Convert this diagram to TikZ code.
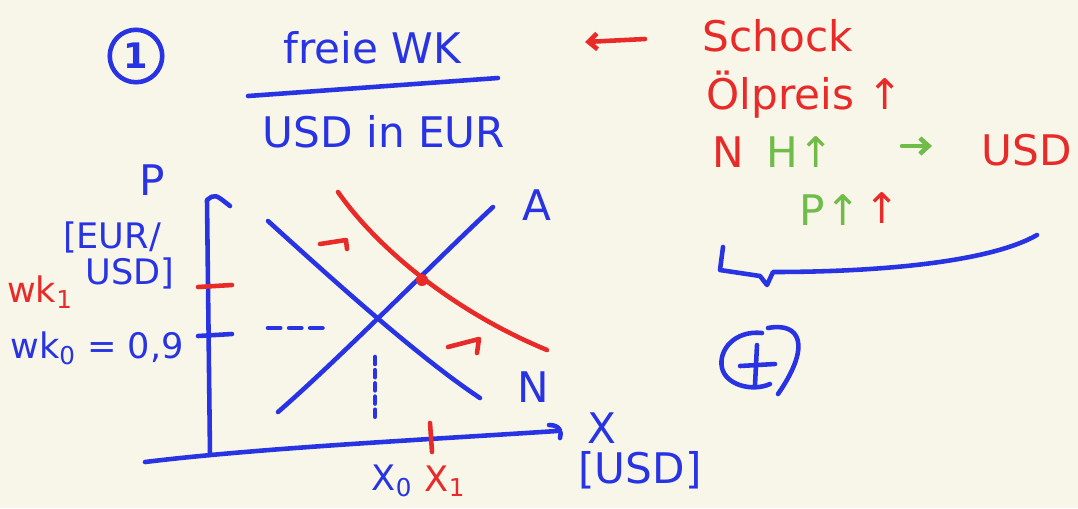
\documentclass[tikz,border=0pt]{standalone}
\usepackage{fontspec}
\setmainfont{DejaVu Sans}
\usetikzlibrary{arrows.meta}
\definecolor{bg}{RGB}{248,245,233}
\definecolor{pblue}{RGB}{40,52,228}
\definecolor{pred}{RGB}{232,42,40}
\definecolor{pgreen}{RGB}{112,188,72}
\tikzset{
  pen/.style={line width=2.6pt, line cap=round, line join=round},
  bluepen/.style={pen, draw=pblue},
  redpen/.style={pen, draw=pred},
  greenpen/.style={pen, draw=pgreen},
  big/.style={font=\fontsize{24}{28}\selectfont, inner sep=0pt},
  mid/.style={font=\fontsize{20}{24}\selectfont, inner sep=0pt},
  btxt/.style={text=pblue},
  rtxt/.style={text=pred},
  gtxt/.style={text=pgreen},
  barb/.style={-{Straight Barb[length=5pt,width=9pt]}},
}
\begin{document}
\begin{tikzpicture}[x=0.02cm,y=-0.02cm]
\fill[bg] (0,0) rectangle (1078,508);
\useasboundingbox (0,0) rectangle (1078,508);

% header
\node[bluepen, circle, minimum size=1.05cm, inner sep=0pt, btxt, font=\fontsize{20}{22}\selectfont\bfseries] (one) at (136,56) {1};
\node[big, btxt] (title) at (372,48) {freie WK};
\coordinate (ulA) at (248,96);
\coordinate (ulB) at (498,78);
\draw[bluepen] (ulA) -- (ulB);
\node[big, btxt] (sub) at (384,132) {USD in EUR};

% right notes
\node[big, rtxt] (schock) at (778,36) {Schock};
\coordinate (arS) at (645,39);
\coordinate (arE) at (585,42);
\draw[redpen, barb] (arS) -- (arE);
\node[big, rtxt] (oel) at (805,95) {Ölpreis ↑};
\node[big, rtxt] (nn) at (728,152) {N};
\node[big, gtxt] (hh) at (800,152) {H↑};
\coordinate (gaS) at (902,146);
\coordinate (gaE) at (932,146);
\draw[greenpen, barb] (gaS) -- (gaE);
\node[big, rtxt] (usd) at (1027,150) {USD};
\node[big, gtxt] (pp) at (830,210) {P↑};
\node[big, rtxt] (pr) at (882,208) {↑};
\coordinate (brA) at (723,247);
\coordinate (brB) at (720,270);
\coordinate (brC) at (760,276);
\coordinate (brD) at (767,285);
\coordinate (brE) at (773,272);
\coordinate (brF) at (1037,235);
\draw[bluepen] (brA) -- (brB) -- (brC) -- (brD) -- (brE) .. controls (880,272) and (990,262) .. (brF);

% circled plus
\draw[bluepen] (762,333) .. controls (735,330) and (718,350) .. (722,368)
   .. controls (726,385) and (752,392) .. (770,384);
\draw[bluepen] (768,328) .. controls (800,322) and (812,345) .. (778,394);
\draw[bluepen] (740,366) -- (775,364);
\draw[bluepen] (757,345) -- (755,385);

% axes
\coordinate (yB) at (210,455);
\coordinate (yT) at (207,200);
\coordinate (yH) at (230,206);
\draw[bluepen] (yB) -- (yT) .. controls (215,194) .. (yH);
\coordinate (xL) at (145,462);
\coordinate (xR) at (557,431);
\draw[bluepen] (xL) .. controls (260,448) and (420,440) .. (xR);
\draw[bluepen] (549,425) .. controls (560,425) and (562,432) .. (560,438);

% ticks
\coordinate (tr1) at (198,287);
\coordinate (tr2) at (232,285);
\draw[redpen] (tr1) -- (tr2);
\coordinate (tb1) at (198,336);
\coordinate (tb2) at (232,334);
\draw[bluepen] (tb1) -- (tb2);
\coordinate (tx1) at (430,423);
\coordinate (tx2) at (432,452);
\draw[redpen] (tx1) -- (tx2);

% curves
\coordinate (nS) at (268,221);
\coordinate (nE) at (480,398);
\draw[bluepen] (nS) .. controls (320,268) and (415,355) .. (nE);
\coordinate (aS) at (278,412);
\coordinate (aE) at (493,207);
\draw[bluepen] (aS) .. controls (340,358) and (430,266) .. (aE);
\coordinate (rS) at (338,192);
\coordinate (rE) at (547,350);
\draw[redpen] (rS) .. controls (375,245) and (450,310) .. (rE);
\fill[pred] (422,280) circle (6);

% dashed guides
\coordinate (dhA) at (268,328);
\coordinate (dhB) at (330,328);
\draw[bluepen, dash pattern=on 7pt off 5pt] (dhA) -- (dhB);
\coordinate (dvA) at (375,357);
\coordinate (dvB) at (375,417);
\draw[bluepen, dash pattern=on 4pt off 3.5pt] (dvA) -- (dvB);

% small red shift arrows
\draw[redpen] (320,244) -- (346,240) -- (347,249);
\draw[redpen] (448,347) -- (479,339) -- (477,353);

% labels
\node[big, btxt] (lA) at (537,205) {A};
\node[big, btxt] (lN) at (533,387) {N};
\node[big, btxt] (lP) at (152,180) {P};
\node[mid, btxt] (lEUR) at (112,237) {[EUR/};
\node[mid, btxt] (lUSD) at (130,273) {USD]};
\node[mid, rtxt] (lwk1) at (40,292) {wk\textsubscript{1}};
\node[mid, btxt] (lwk0) at (97,348) {wk\textsubscript{0} = 0,9};
\node[mid, btxt] (lx0) at (392,481) {X\textsubscript{0}};
\node[mid, rtxt] (lx1) at (445,481) {X\textsubscript{1}};
\node[big, btxt] (lX) at (602,428) {X};
\node[big, btxt] (lXu) at (640,470) {[USD]};
\end{tikzpicture}
\end{document}
